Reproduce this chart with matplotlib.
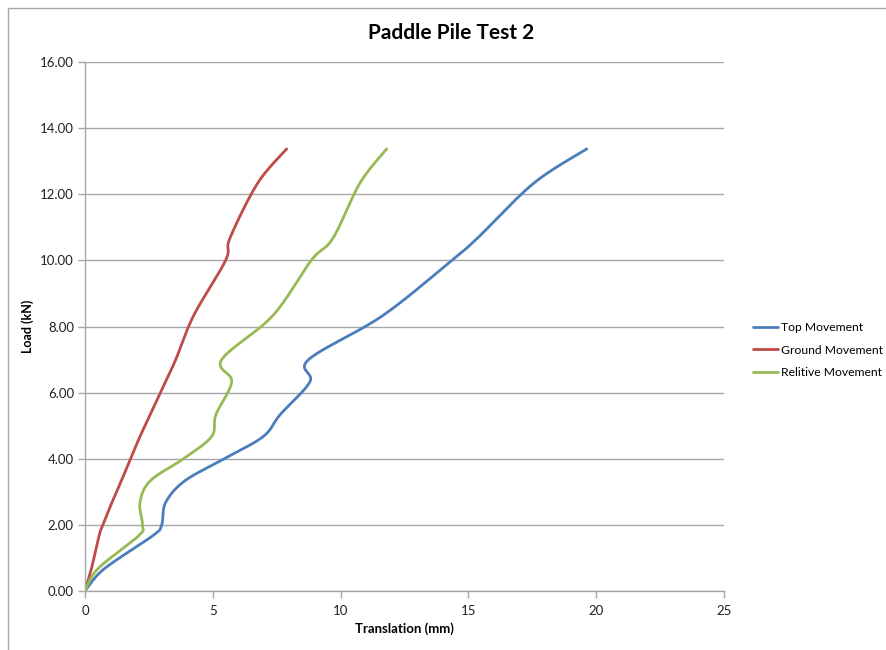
import numpy as np
import matplotlib
matplotlib.use("Agg")
import matplotlib.pyplot as plt
from matplotlib.patches import Rectangle

# Load steps (kN) and measured translations (mm)
load = [0.00, 0.67, 1.67, 2.00, 2.67, 3.33, 4.00, 4.67, 5.33, 6.33, 7.00, 8.33, 10.00, 10.67, 12.33, 13.37]
top_movement = [0.00, 0.75, 2.65, 3.00, 3.15, 3.90, 5.45, 6.97, 7.63, 8.80, 8.75, 11.65, 14.35, 15.35, 17.55, 19.63]
ground_movement = [0.00, 0.25, 0.55, 0.70, 1.05, 1.42, 1.78, 2.15, 2.55, 3.15, 3.55, 4.25, 5.50, 5.67, 6.75, 7.89]
relative_movement = [0.00, 0.50, 2.10, 2.25, 2.15, 2.55, 3.85, 4.95, 5.12, 5.74, 5.35, 7.35, 8.85, 9.70, 10.75, 11.80]

series_names = ["Top Movement", "Ground Movement", "Relitive Movement"]
series_colors = ["#4A7EBB", "#BE4B48", "#98B954"]


def smooth(xs, ys, n=30):
    """Catmull-Rom style smoothing through every point (spreadsheet 'smoothed line')."""
    p = np.column_stack([xs, ys]).astype(float)
    ext = np.vstack([p[0], p, p[-1]])
    out = []
    t = np.linspace(0, 1, n, endpoint=False)[:, None]
    for i in range(1, len(ext) - 2):
        p0, p1, p2, p3 = ext[i - 1], ext[i], ext[i + 1], ext[i + 2]
        c1 = p1 + (p2 - p0) / 6.0
        c2 = p2 - (p3 - p1) / 6.0
        seg = ((1 - t) ** 3) * p1 + 3 * ((1 - t) ** 2) * t * c1 + 3 * (1 - t) * t ** 2 * c2 + t ** 3 * p2
        out.append(seg)
    out.append(p[-1][None, :])
    out = np.vstack(out)
    return out[:, 0], out[:, 1]


plt.rcParams["font.family"] = ["Lato", "DejaVu Sans"]

W, H = 886, 650
fig = plt.figure(figsize=(W / 100, H / 100), dpi=100)
fig.patch.set_facecolor("white")

# chart frame
fig.patches.append(Rectangle((8 / W, -0.01), 1.0, (H - 8) / H + 0.01, transform=fig.transFigure,
                             fill=False, edgecolor="#A6A6A6", linewidth=1.0))

ax = fig.add_axes([85 / W, (H - 591) / H, (724 - 85) / W, (591 - 62) / H])

for xs, name, color in zip([top_movement, ground_movement, relative_movement], series_names, series_colors):
    sx, sy = smooth(xs, load)
    ax.plot(sx, sy, color=color, linewidth=2.0, label=name, solid_capstyle="round")

ax.set_xlim(0, 25)
ax.set_ylim(0, 16)
ax.set_xticks([0, 5, 10, 15, 20, 25])
ax.set_yticks(np.arange(0, 16.01, 2))
ax.set_yticklabels([f"{v:.2f}" for v in np.arange(0, 16.01, 2)])
ax.yaxis.grid(True, color="#A6A6A6", linewidth=1.0)
ax.set_axisbelow(True)
for s in ["top", "right"]:
    ax.spines[s].set_visible(False)
for s in ["left", "bottom"]:
    ax.spines[s].set_color("#A6A6A6")
    ax.spines[s].set_linewidth(1.0)
ax.tick_params(axis="both", colors="#A6A6A6", labelcolor="#222222", labelsize=9.5, length=5, width=1.0)
ax.tick_params(axis="x", pad=5)
ax.tick_params(axis="y", pad=3)

ax.set_xlabel("Translation (mm)", fontsize=9.5, fontweight="bold", labelpad=4)
ax.set_ylabel("Load (kN)", fontsize=9, fontweight="bold", labelpad=4)

fig.text((368 + 534) / 2 / W, 1 - 33 / H, "Paddle Pile Test 2", ha="center", va="center",
         fontsize=15, fontweight="bold")

leg = ax.legend(loc="center left", bbox_to_anchor=(748 / W, 1 - 350 / H), bbox_transform=fig.transFigure,
                frameon=False, fontsize=8.7, handlelength=2.1, handletextpad=0.2, labelspacing=0.95,
                borderaxespad=0)

fig.savefig("out.png", dpi=100)
